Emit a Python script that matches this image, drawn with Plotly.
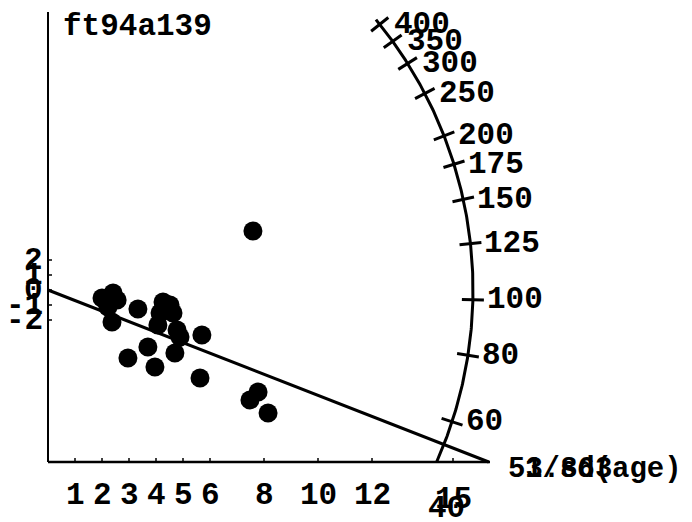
import numpy as np
import plotly.graph_objects as go

# ---------------- data ----------------
title_text = "ft94a139"
precision = [2.00, 2.41, 2.56, 2.37, 2.22, 3.33, 4.26, 4.15, 4.07, 4.63, 4.52,
             4.78, 4.89, 3.70, 2.96, 4.70, 3.96, 5.70, 5.63, 7.59, 7.48, 7.78, 8.15]
zscore = [-0.53, -0.20, -0.67, -2.13, -1.13, -1.27, -0.80, -1.53, -2.33, -1.53, -1.00,
          -2.67, -3.13, -3.80, -4.53, -4.20, -5.13, -3.00, -5.87, 3.93, -7.33, -6.80, -8.20]
central_age = 53.863
central_label = "53.863"
arc_ages = [400, 350, 300, 250, 200, 175, 150, 125, 100, 80, 60]
arc_end_label = "40"
x_ticks = [1, 2, 3, 4, 5, 6, 8, 10, 12, 15]
y_ticks = [2, 1, 0, -1, -2]
x_title = "1/sd(age)"

# ---------------- scales ----------------
W, H = 692, 522
OFF = 8.0                      # page body margin
PXX, PXZ = 27.0, 15.0          # pixels per unit
OX, OY = 48.0 - OFF, 290.0 - OFF   # figure pixel position of data origin
x_range = [-OX / PXX, (W - OX) / PXX]
y_range = [-(H - OY) / PXZ, OY / PXZ]
AXIS_PY = 462.0 - OFF
z_axis = (OY - AXIS_PY) / PXZ
z_top = (OY - (12.0 - OFF)) / PXZ
x_end = (490.0 - OFF - OX) / PXX

R = 425.0                       # arc radius (px)
K, C = 0.594, 103.9             # arc scale: tan(theta) = K*ln(t/C)


def theta(age):
    return np.arctan(K * np.log(np.asarray(age, float) / C))


def polar(th, r):
    return r * np.cos(th) / PXX, r * np.sin(th) / PXZ


FONT = dict(family="Liberation Mono, Courier New, monospace", size=31, color="black", weight="bold")
FONT_S = dict(FONT, size=29)
CH = 0.6 * FONT_S["size"]

fig = go.Figure()

# axes
fig.add_trace(go.Scatter(x=[0, 0], y=[z_top, z_axis], mode="lines",
                         line=dict(color="black", width=2), hoverinfo="skip"))
fig.add_trace(go.Scatter(x=[0, x_end], y=[z_axis, z_axis], mode="lines",
                         line=dict(color="black", width=2.5), hoverinfo="skip"))
# small ticks
tx, ty = [], []
for v in x_ticks:
    tx += [v, v, None]
    ty += [z_axis, z_axis + 4 / PXZ, None]
for v in y_ticks:
    tx += [0, 4 / PXX, None]
    ty += [v, v, None]
fig.add_trace(go.Scatter(x=tx, y=ty, mode="lines", line=dict(color="black", width=1.5),
                         hoverinfo="skip"))

# arc
th_bot = np.arcsin((AXIS_PY - OY) / -R)
th_top = np.radians(39.5)
ths = np.linspace(th_bot, th_top, 200)
ax_, az_ = polar(ths, R)
fig.add_trace(go.Scatter(x=ax_, y=az_, mode="lines", line=dict(color="black", width=3),
                         hoverinfo="skip"))
# arc ticks
kx, kz = [], []
for a in arc_ages:
    t = theta(a)
    x1, z1 = polar(t, R - 11)
    x2, z2 = polar(t, R + 11)
    kx += [x1, x2, None]
    kz += [z1, z2, None]
fig.add_trace(go.Scatter(x=kx, y=kz, mode="lines", line=dict(color="black", width=3),
                         hoverinfo="skip"))

# central age line
t0 = theta(central_age)
r_end = (AXIS_PY - OY) / -np.sin(t0)
lx, lz = polar(t0, r_end)
fig.add_trace(go.Scatter(x=[0, lx], y=[0, lz], mode="lines",
                         line=dict(color="black", width=3), hoverinfo="skip"))

# points
fig.add_trace(go.Scatter(x=precision, y=zscore, mode="markers",
                         marker=dict(size=19, color="black", line=dict(width=0)),
                         hoverinfo="skip", cliponaxis=False))

ann = []
for a in arc_ages:
    x, z = polar(theta(a), R)
    ann.append(dict(x=x, y=z, text=str(a), showarrow=False, xanchor="left",
                    yanchor="middle", xshift=12, font=FONT))
bx, bz = polar(th_bot, R)
ann.append(dict(x=bx, y=bz, text=arc_end_label, showarrow=False, xanchor="center",
                yanchor="middle", xshift=10, yshift=-46, font=FONT))
for v in x_ticks:
    ann.append(dict(x=v, y=z_axis, text=str(v), showarrow=False, xanchor="center",
                    yanchor="middle", yshift=-33 if v != 15 else -37, font=FONT))
for v in y_ticks:
    ann.append(dict(x=0, y=v, text=str(v), showarrow=False, xanchor="right",
                    yanchor="middle", xshift=-3, font=FONT))
ann.append(dict(x=x_end, y=z_axis, text=central_label, showarrow=False, xanchor="left",
                yanchor="middle", xshift=16, yshift=-7, font=FONT_S))
ann.append(dict(x=x_end, y=z_axis, text=x_title, showarrow=False, xanchor="left",
                yanchor="middle", xshift=16 + CH, yshift=-7, font=FONT_S))
ann.append(dict(xref="paper", yref="paper", x=(61 - OFF) / W, y=1 - (27 - OFF) / H,
                text=title_text, showarrow=False, xanchor="left", yanchor="middle",
                font=FONT))

fig.update_layout(
    width=W, height=H, margin=dict(l=0, r=0, t=0, b=0),
    paper_bgcolor="white", plot_bgcolor="white", showlegend=False,
    xaxis=dict(range=x_range, visible=False, fixedrange=True),
    yaxis=dict(range=y_range, visible=False, fixedrange=True),
    annotations=ann,
)
fig.write_html("out.html")
